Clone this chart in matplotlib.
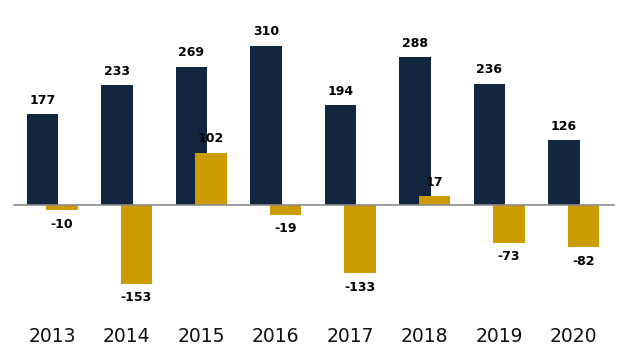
import numpy as np
import matplotlib.pyplot as plt

years = ['2013', '2014', '2015', '2016', '2017', '2018', '2019', '2020']
navy_vals = [177, 233, 269, 310, 194, 288, 236, 126]
gold_vals = [-10, -153, 102, -19, -133, 17, -73, -82]

NAVY = '#12263f'
GOLD = '#cc9b00'


def main():
    fig = plt.figure(figsize=(6.28, 3.5), dpi=100)
    ax = fig.add_axes([0, 0, 1, 1])
    x = np.arange(len(years))
    off = 0.131
    w = 0.42

    ax.bar(x - off, navy_vals, width=w, color=NAVY, zorder=2)
    ax.bar(x + off, gold_vals, width=w, color=GOLD, zorder=3)
    ax.axhline(0, xmin=0.022, xmax=0.978, color='#8c8c8c', lw=1.2, zorder=4)

    # value labels
    for xi, v in zip(x - off, navy_vals):
        ax.annotate(str(v), (xi, v), xytext=(0, 10), textcoords='offset points',
                    ha='center', va='center', fontsize=9, fontweight='bold')
    for xi, v in zip(x + off, gold_vals):
        dy = 10 if v > 0 else -10
        ax.annotate(str(v), (xi, v), xytext=(0, dy), textcoords='offset points',
                    ha='center', va='center', fontsize=9, fontweight='bold')

    # year labels near the bottom
    for xi, yr in zip(x, years):
        ax.text(xi, 14 / 350, yr, transform=ax.get_xaxis_transform(),
                ha='center', va='center', fontsize=13.5, color='#111111')

    ax.set_xlim(-0.701, 7.728)
    ax.set_ylim(-282, 399)
    ax.axis('off')
    fig.savefig('out.png', dpi=100)


if __name__ == '__main__':
    main()
